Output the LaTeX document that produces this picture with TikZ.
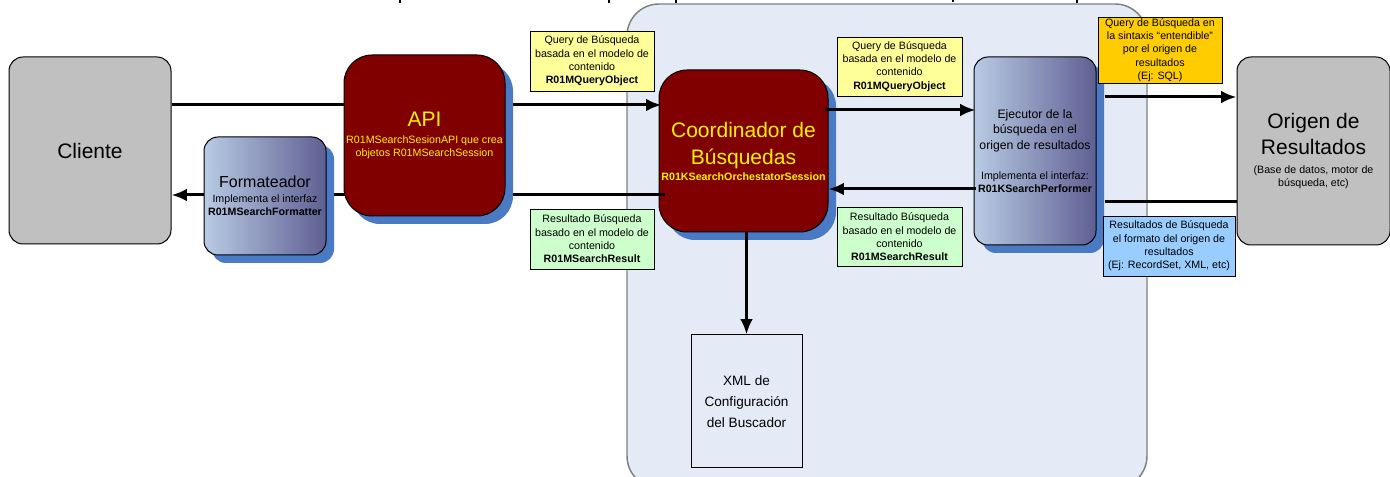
\documentclass[tikz,border=0pt]{standalone}
\usepackage{fontspec}
\setmainfont{Liberation Sans}
\usetikzlibrary{arrows.meta,shadows,calc}
\definecolor{shadowblue}{HTML}{4A7AC4}
\definecolor{maroonbox}{HTML}{800000}
\definecolor{panelblue}{HTML}{E4EBF7}
\definecolor{greybox}{HTML}{C0C0C0}
\definecolor{notey}{HTML}{FFFF99}
\definecolor{noteg}{HTML}{CCFFCC}
\definecolor{noteo}{HTML}{FFCC00}
\definecolor{noteb}{HTML}{99CCFF}
\definecolor{gradl}{HTML}{B8CBE4}
\definecolor{gradr}{HTML}{5F5F92}
\newcommand{\fxxl}{\fontsize{15.75}{20}\selectfont}
\newcommand{\fxl}{\fontsize{12}{15}\selectfont}
\newcommand{\fl}{\fontsize{10.2}{15.5}\selectfont}
\newcommand{\fm}{\fontsize{9.2}{12}\selectfont}
\newcommand{\fs}{\fontsize{8}{10}\selectfont}
\tikzset{
  x=0.75pt,y=-0.75pt,
  boxbase/.style={draw=black,line width=0.75pt,inner sep=0pt,align=center,font=\fs},
  sized/.style 2 args={minimum width=#1*0.75pt,minimum height=#2*0.75pt},
  blockshadow/.style={general shadow={shadow xshift=6pt,shadow yshift=-6pt,fill=shadowblue}},
  greyblock/.style={boxbase,fill=greybox,rounded corners=10.5pt,text=black},
  redblock/.style={boxbase,fill=maroonbox,rounded corners=21pt,text=yellow,blockshadow},
  gradblock/.style={boxbase,left color=gradl,right color=gradr,rounded corners=10.5pt,text=black,blockshadow},
  note/.style={boxbase,line width=0.6pt},
  flow/.style={line width=2.25pt,draw=black},
  flowhead/.style={flow,-{Latex[length=11.5pt,width=9.5pt]}},
  panelbox/.style={draw=black!50,line width=1.1pt,fill=panelblue,rounded corners=24pt},
  xmlbox/.style={boxbase,fill=panelblue}
}
\begin{document}
\begin{tikzpicture}
\useasboundingbox (0,0) rectangle (1390,477);
\clip (0,0) rectangle (1390,477);
% cut-off title remnants
\draw[line width=0.8pt] (400,0) -- (400,3) (609,0) -- (609,3) (676,0) -- (676,3) (953,0) -- (953,2) (1077,0) -- (1077,3);
\node[panelbox,sized={520}{484}] (panel) at (887,246) {};
\coordinate (yA) at (0,105);
\coordinate (yB) at (0,195);
\coordinate (yC) at (0,110);
\coordinate (yD) at (0,189);
\coordinate (yE) at (0,97);
\coordinate (yF) at (0,202);
\node[greyblock,sized={162}{187}] (cliente) at (90,150.5) {{\fxxl Cliente}};
\node[greyblock,sized={153}{188}] (origen) at (1313.5,151) {{\fxxl Origen de}\\[4pt]{\fxxl Resultados}\\[4.5pt]{\fs (Base de datos, motor de}\\{\fs búsqueda, etc)}};
\node[redblock,sized={169}{162}] (coord) at (743.5,151) {{\fxxl Coordinador de}\\[7.5pt]{\fxxl Búsquedas}\\[2pt]{\fs\bfseries R01KSearchOrchestatorSession}};
\node[gradblock,sized={122}{188}] (ejec) at (1035,151) {{\fm Ejecutor de la}\\[1.6pt]{\fm búsqueda en el}\\[1.6pt]{\fm origen de resultados}\\[12.5pt]{\fs Implementa el interfaz:}\\{\fs\bfseries R01KSearchPerformer}};
\node[xmlbox,sized={111}{133}] (xml) at (746.5,401.5) {{\fl XML de}\\[5.75pt]{\fl Configuración}\\[5.75pt]{\fl del Buscador}};
% connectors
\draw[flowhead] (cliente.east |- yA) -- ([xshift=2.2pt]coord.west |- yA);
\draw[flowhead] ([xshift=4.5pt]coord.west |- yB) -- (cliente.east |- yB);
\draw[flowhead] ([xshift=-3pt]coord.east |- yC) -- ([xshift=1.5pt]ejec.west |- yC);
\draw[flowhead] ([xshift=1.5pt]ejec.west |- yD) -- (coord.east |- yD);
\draw[flowhead] ([xshift=6pt]ejec.east |- yE) -- (origen.west |- yE);
\draw[flow] (origen.west |- yF) -- ([xshift=6pt]ejec.east |- yF);
\draw[flowhead] (coord.south -| xml.north) -- (xml.north);
% blocks above the connectors
\node[redblock,sized={161}{161}] (api) at (424.5,135.5) {{\fxxl API}\\[2.75pt]{\fs R01MSearchSesionAPI que crea}\\{\fs objetos R01MSearchSession}};
\node[gradblock,sized={122}{118}] (form) at (265,196) {{\fxl Formateador}\\[1.25pt]{\fs Implementa el interfaz}\\{\fs\bfseries R01MSearchFormatter}};
% notes
\node[note,fill=notey,sized={124}{60}] (n1) at (592,61) {Query de Búsqueda\\basada en el modelo de\\contenido\\\textbf{R01MQueryObject}};
\node[note,fill=noteg,sized={124}{60}] (n2) at (592,239) {Resultado Búsqueda\\basado en el modelo de\\contenido\\\textbf{R01MSearchResult}};
\node[note,fill=notey,sized={125}{59}] (n3) at (899.5,66.5) {Query de Búsqueda\\basada en el modelo de\\contenido\\\textbf{R01MQueryObject}};
\node[note,fill=noteg,sized={125}{59}] (n4) at (899.5,237) {Resultado Búsqueda\\basado en el modelo de\\contenido\\\textbf{R01MSearchResult}};
\node[note,fill=noteo,sized={124}{66}] (n5) at (1160,50) {Query de Búsqueda en\\la sintaxis “entendible”\\por el origen de\\resultados\\(Ej: SQL)};
\node[note,fill=noteb,sized={132}{60}] (n6) at (1169,246) {Resultados de Búsqueda\\el formato del origen de\\resultados\\(Ej: RecordSet, XML, etc)};
\end{tikzpicture}
\end{document}
